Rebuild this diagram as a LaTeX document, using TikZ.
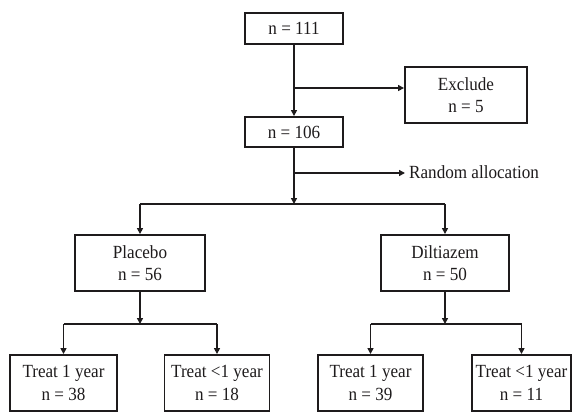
\documentclass[tikz,border=0pt]{standalone}
\usepackage{fontspec}
\setmainfont{Liberation Serif}
\usetikzlibrary{arrows.meta}
\definecolor{ink}{RGB}{30,27,28}
\newcommand{\tx}[1]{\scalebox{0.95}[1.03]{#1}}
\begin{document}
\begin{tikzpicture}[x=1pt,y=-1pt,
  box/.style={draw=ink,line width=1.9pt,inner sep=0pt,align=center,font=\fontsize{18}{22.5}\selectfont,text=ink},
  arr/.style={draw=ink,line width=1.7pt,-{Triangle[length=6pt,width=6pt]}},
  ln/.style={draw=ink,line width=1.7pt}]
\useasboundingbox (0,0) rectangle (576,413);
\node[box,minimum width=98pt,minimum height=31pt] (top) at (294,28.5) {\tx{n = 111}};
\node[box,minimum width=98pt,minimum height=30pt] (mid) at (294,132) {\tx{n = 106}};
\node[box,minimum width=122pt,minimum height=56pt] (exc) at (466,95) {\tx{Exclude}\\\tx{n = 5}};
\node[box,minimum width=130pt,minimum height=56pt] (pla) at (140,263) {\tx{Placebo}\\\tx{n = 56}};
\node[box,minimum width=128pt,minimum height=56pt] (dil) at (445,263) {\tx{Diltiazem}\\\tx{n = 50}};
\node[box,minimum width=107pt,minimum height=56pt] (pa) at (63.5,383) {\tx{Treat 1 year}\\\tx{n = 38}};
\node[box,minimum width=105pt,minimum height=56pt] (pb) at (217,383) {\tx{Treat <1 year}\\\tx{n = 18}};
\node[box,minimum width=105pt,minimum height=56pt] (da) at (370.5,383) {\tx{Treat 1 year}\\\tx{n = 39}};
\node[box,minimum width=99pt,minimum height=56pt] (db) at (521.5,383) {\tx{Treat <1 year}\\\tx{n = 11}};
\node[anchor=west,inner sep=0pt,font=\fontsize{18}{22}\selectfont,text=ink] (rtext) at (409,172) {\tx{Random allocation}};
\coordinate (ex) at (294,88);
\coordinate (ra) at (294,173);
\coordinate (j0) at (294,204);
\coordinate (jp) at (140,324);
\coordinate (jd) at (445,324);
\draw[arr] (top) -- (mid);
\draw[arr] (ex) -- (ex -| exc.west);
\draw[arr] (ra) -- ([xshift=-4pt]rtext.west |- ra);
\draw[arr] (mid) -- (j0);
\draw[ln] (pla.north |- j0) -- (dil.north |- j0);
\draw[arr] (pla.north |- j0) -- (pla.north);
\draw[arr] (dil.north |- j0) -- (dil.north);
\draw[arr] (pla) -- (jp);
\draw[arr] (dil) -- (jd);
\draw[ln] (pa.north |- jp) -- (pb.north |- jp);
\draw[ln] (da.north |- jd) -- (db.north |- jd);
\draw[arr] (pa.north |- jp) -- (pa.north);
\draw[arr] (pb.north |- jp) -- (pb.north);
\draw[arr] (da.north |- jd) -- (da.north);
\draw[arr] (db.north |- jd) -- (db.north);
\end{tikzpicture}
\end{document}
